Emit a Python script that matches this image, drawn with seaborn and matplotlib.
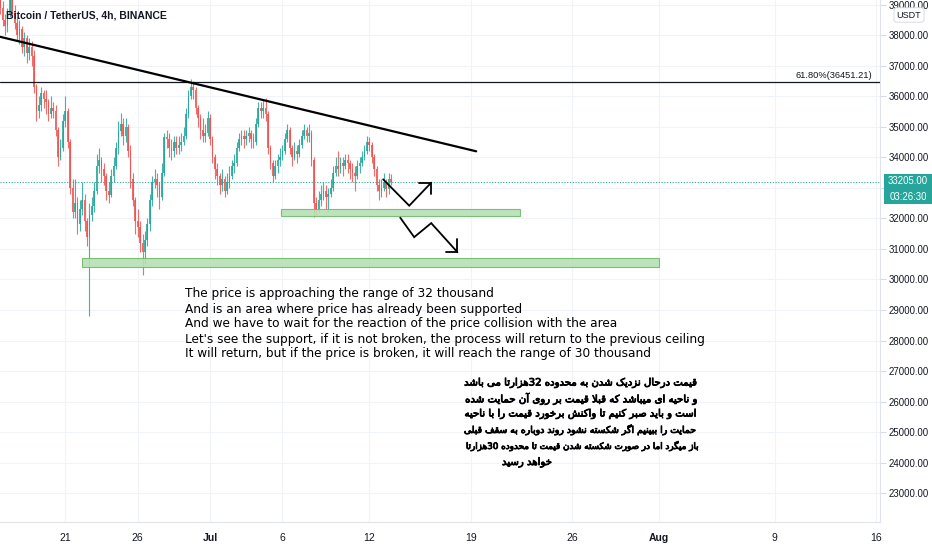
import re
import numpy as np
import pandas as pd
import matplotlib
matplotlib.use('Agg')
import matplotlib.pyplot as plt
import matplotlib.dates as mdates
import matplotlib.patheffects as pe
from matplotlib.patches import Rectangle
import seaborn as sns

# BTCUSDT 4h candles from 16 Jun 2021 12:00
start_time = '2021-06-16 12:00'
first_open = 39300
closes = [38900, 38500, 38300, 38700, 39200, 38800, 38400, 38000, 38200, 37600,
          37900, 37400, 37600, 37300, 36300, 35500, 35700, 36100, 35900, 35800,
          35400, 35600, 35500, 34900, 34000, 34300, 35200, 35500, 34500, 33000,
          32200, 32500, 31800, 32300, 32600, 31900, 31400, 32100, 32400, 32900,
          33700, 33900, 33600, 33400, 32900, 32750, 33400, 33700, 34300, 34850,
          35100, 34700, 35000, 34200, 33300, 32600, 31900, 31700, 31200, 30900,
          31300, 31800, 32600, 33200, 33300, 33100, 32700, 33500, 34650, 34600,
          34300, 34200, 34500, 34300, 34400, 34500, 34700, 35400, 36000, 36300,
          36200, 35600, 35300, 34900, 34700, 34800, 35300, 34600, 34000, 33600,
          33400, 33100, 33300, 32900, 33200, 33400, 33700, 33800, 34300, 34600,
          34700, 34600, 34700, 34800, 34600, 34500, 35100, 35600, 35500, 35600,
          35400, 34300, 33800, 33400, 33700, 33900, 34000, 34200, 34600, 34900,
          34300, 34000, 34200, 34100, 34400, 34700, 34900, 34700, 34800, 33900,
          32500, 32300, 32600, 32800, 32900, 32700, 32800, 33000, 33500, 33700,
          33600, 33800, 33700, 33900, 33800, 33600, 33500, 33400, 33700, 33800,
          34000, 34200, 34500, 34400, 34000, 33600, 33100, 32900, 33000, 33200,
          32950, 33300, 33205]
highs = [39500, 39100, 38700, 38900, 39500, 39400, 39000, 38600, 38500, 38300,
         38100, 38000, 37900, 37800, 37500, 36400, 36000, 36300, 36200, 36200,
         35900, 36000, 35800, 35700, 35000, 34600, 35400, 36000, 35600, 34600,
         33300, 33300, 32700, 32600, 33200, 32800, 32000, 32500, 32700, 33200,
         34100, 34300, 34000, 33800, 33500, 33200, 33600, 34000, 34500, 35200,
         35450, 35300, 35300, 35100, 34400, 33500, 32700, 32300, 31900, 31500,
         31600, 32000, 32800, 33400, 33600, 33500, 33200, 33800, 34800, 34900,
         34800, 34600, 34700, 34700, 34700, 34800, 35000, 35600, 36200, 36550,
         36500, 36300, 35700, 35400, 35300, 35100, 35500, 35400, 34700, 34100,
         33800, 33500, 33600, 33400, 33500, 33700, 33900, 34100, 34500, 34800,
         34900, 34900, 34900, 35000, 34900, 34800, 35300, 35800, 35800, 35900,
         35950, 35500, 34400, 33900, 33900, 34100, 34300, 34400, 34800, 35100,
         35000, 34400, 34500, 34400, 34600, 34900, 35100, 35000, 35100, 34900,
         34000, 32700, 32900, 33100, 33200, 33100, 33000, 33300, 33700, 34000,
         34200, 34000, 34000, 34100, 34100, 33900, 33800, 33700, 33900, 34000,
         34200, 34400, 34700, 34650, 34500, 34100, 33700, 33300, 33300, 33500,
         33300, 33500, 33450]
lows = [38700, 38300, 38000, 38100, 38600, 38600, 38200, 37800, 37700, 37400,
        37300, 37100, 37200, 37000, 36100, 35200, 35300, 35500, 35600, 35400,
        35200, 35300, 35300, 34700, 33700, 33900, 34200, 35000, 34300, 32800,
        32000, 32000, 31500, 31600, 32100, 31600, 31100, 28800, 31900, 32200,
        32800, 33500, 33200, 33100, 32600, 32500, 32700, 33200, 33600, 34100,
        34700, 34400, 34500, 34000, 33000, 32400, 31500, 31400, 30900, 30150,
        30500, 31100, 31600, 32400, 33000, 32700, 32300, 32600, 33400, 34300,
        34000, 33900, 34000, 34100, 34100, 34200, 34400, 34600, 35300, 35900,
        35900, 35400, 35000, 34600, 34500, 34500, 34700, 34400, 33800, 33300,
        33100, 32800, 32900, 32700, 32800, 33000, 33300, 33500, 33700, 34200,
        34400, 34300, 34400, 34500, 34300, 34300, 34400, 35000, 35300, 35300,
        35200, 34100, 33600, 33200, 33300, 33500, 33700, 33900, 34100, 34500,
        34100, 33700, 33900, 33800, 34000, 34300, 34600, 34500, 34500, 33700,
        32050, 32100, 32200, 32400, 32600, 32300, 32200, 32700, 32900, 33400,
        33400, 33500, 33400, 33600, 33500, 33300, 33200, 32900, 33300, 33500,
        33700, 33900, 34100, 34200, 33800, 33400, 32900, 32600, 32700, 32900,
        32700, 32800, 33100]

fib_price = 36451.21
last_price = 33205.00
countdown = '03:26:30'
price_ticks = list(range(23000, 40000, 1000))
date_ticks = ['2021-06-21', '2021-06-26', '2021-07-01', '2021-07-06', '2021-07-12',
              '2021-07-19', '2021-07-26', '2021-08-01', '2021-08-09', '2021-08-16']
date_labels = ['21', '26', 'Jul', '6', '12', '19', '26', 'Aug', '9', '16']

# drawings on the chart
trend_t = ['2021-06-16 11:44', '2021-07-19 09:10']
trend_p = [37944, 34195]
zones = [  # (start, end, low, high)
    ('2021-07-05 22:00', '2021-07-22 10:00', 32086, 32316),
    ('2021-06-22 04:00', '2021-08-01 00:30', 30400, 30709),
]
arrow_up_t = ['2021-07-12 23:00', '2021-07-14 18:15', '2021-07-16 06:40']
arrow_up_p = [33277, 32414, 33168]
head_up_t = ['2021-07-15 10:50', '2021-07-16 06:40', '2021-07-16 06:40']
head_up_p = [33168, 33168, 32785]
arrow_dn_t = ['2021-07-14 03:20', '2021-07-15 02:25', '2021-07-16 06:40', '2021-07-18 02:10']
arrow_dn_p = [32021, 31384, 31843, 30892]
head_dn_t = ['2021-07-17 07:30', '2021-07-18 02:10', '2021-07-18 02:10']
head_dn_p = [30892, 30892, 31309]

title = 'Bitcoin / TetherUS, 4h, BINANCE'
note_en = [
    'The price is approaching the range of 32 thousand',
    'And is an area where price has already been supported',
    'And we have to wait for the reaction of the price collision with the area',
    "Let's see the support, if it is not broken, the process will return to the previous ceiling",
    'It will return, but if the price is broken, it will reach the range of 30 thousand',
]
note_fa = [
    'قیمت درحال نزدیک شدن به محدوده 32هزارتا می باشد',
    'و ناحیه ای میباشد که قبلا قیمت بر روی آن حمایت شده',
    'است و باید صبر کنیم تا واکنش برخورد قیمت را با ناحیه',
    'حمایت را ببینیم اگر شکسته نشود روند دوباره به سقف قبلی',
    'باز میگرد اما در صورت شکسته شدن قیمت تا محدوده 30هزارتا',
    'خواهد رسید',
]

UP = '#26a69a'
DOWN = '#ef5350'

# persian letter shaping (isolated, final, initial, medial)
FORMS = {
    'ا': ('\uFE8D', '\uFE8E', None, None),
    'آ': ('\uFE81', '\uFE82', None, None),
    'د': ('\uFEA9', '\uFEAA', None, None),
    'ر': ('\uFEAD', '\uFEAE', None, None),
    'ز': ('\uFEAF', '\uFEB0', None, None),
    'و': ('\uFEED', '\uFEEE', None, None),
    'ب': ('\uFE8F', '\uFE90', '\uFE91', '\uFE92'),
    'ت': ('\uFE95', '\uFE96', '\uFE97', '\uFE98'),
    'ح': ('\uFEA1', '\uFEA2', '\uFEA3', '\uFEA4'),
    'خ': ('\uFEA5', '\uFEA6', '\uFEA7', '\uFEA8'),
    'س': ('\uFEB1', '\uFEB2', '\uFEB3', '\uFEB4'),
    'ش': ('\uFEB5', '\uFEB6', '\uFEB7', '\uFEB8'),
    'ص': ('\uFEB9', '\uFEBA', '\uFEBB', '\uFEBC'),
    'ف': ('\uFED1', '\uFED2', '\uFED3', '\uFED4'),
    'ق': ('\uFED5', '\uFED6', '\uFED7', '\uFED8'),
    'ک': ('\uFB8E', '\uFB8F', '\uFB90', '\uFB91'),
    'گ': ('\uFB92', '\uFB93', '\uFB94', '\uFB95'),
    'ل': ('\uFEDD', '\uFEDE', '\uFEDF', '\uFEE0'),
    'م': ('\uFEE1', '\uFEE2', '\uFEE3', '\uFEE4'),
    'ن': ('\uFEE5', '\uFEE6', '\uFEE7', '\uFEE8'),
    'ه': ('\uFEE9', '\uFEEA', '\uFEEB', '\uFEEC'),
    'ی': ('\uFBFC', '\uFBFD', '\uFBFE', '\uFBFF'),
}


def links_forward(c):
    return c in FORMS and FORMS[c][2] is not None


def shape_line(s):
    # contextual forms in logical order, then right-to-left visual order
    out = []
    k = 0
    while k < len(s):
        c = s[k]
        prev = s[k - 1] if k > 0 else ''
        link_prev = links_forward(prev) and c in FORMS
        if c == 'ل' and k + 1 < len(s) and s[k + 1] == 'ا':
            out.append('\uFEFC' if link_prev else '\uFEFB')
            k += 2
            continue
        nxt = s[k + 1] if k + 1 < len(s) else ''
        link_next = links_forward(c) and nxt in FORMS
        if c not in FORMS:
            out.append(c)
        else:
            iso, fin, ini, med = FORMS[c]
            if link_prev and link_next:
                out.append(med)
            elif link_prev:
                out.append(fin)
            elif link_next:
                out.append(ini)
            else:
                out.append(iso)
        k += 1
    visual = ''.join(reversed(out))
    # numbers keep their left-to-right order
    return re.sub(r'\d+', lambda m: m.group(0)[::-1], visual)


sns.set_style('white')
plt.rcParams['font.family'] = ['Liberation Sans', 'DejaVu Sans']

W, H = 932, 550
fig = plt.figure(figsize=(W / 100, H / 100), dpi=100)
ax = fig.add_axes([0, 28 / H, 880 / W, 522 / H])


def fx(px):
    return px / W


def fy(py):
    return 1 - py / H


def tnum(ts):
    return mdates.date2num(pd.to_datetime(ts))


# candles
times = pd.date_range(start_time, periods=len(closes), freq='4h')
opens = [first_open] + closes[:-1]
df = pd.DataFrame({'t': times, 'open': opens, 'high': highs, 'low': lows, 'close': closes})
df['x'] = mdates.date2num(df['t'])
colors = np.where(df['close'] >= df['open'], UP, DOWN)
ax.vlines(df['x'], df['low'], df['high'], colors=colors, lw=0.8, alpha=0.85, zorder=3)
body = (df['close'] - df['open']).abs().clip(lower=25)
ax.bar(df['x'], body, bottom=df[['open', 'close']].min(axis=1), width=0.115,
       color=colors, linewidth=0, alpha=0.85, zorder=3)

# grid
for p in price_ticks:
    ax.axhline(p, color='#f0f3fa', lw=0.8, zorder=0)
for d in date_ticks:
    ax.axvline(tnum(d), color='#f0f3fa', lw=0.8, zorder=0)

# fib level and last price
ax.axhline(fib_price, color='#131722', lw=0.9, zorder=4)
ax.axhline(last_price, color=UP, lw=0.8, ls=(0, (1, 1.5)), zorder=2)
fig.text(fx(872), fy(75), '61.80%(36451.21)', ha='right', va='center',
         fontsize=6.7, color='#131722')

# support zones
for t0, t1, lo, hi in zones:
    x0, x1 = tnum(t0), tnum(t1)
    ax.add_patch(Rectangle((x0, lo), x1 - x0, hi - lo, facecolor='#b7dfb4',
                           edgecolor='#6dbb6a', lw=0.8, alpha=0.9, zorder=4))

# trend line and path arrows
sns.lineplot(x=tnum(trend_t), y=trend_p, ax=ax, color='black', lw=1.6, zorder=5)
for tt, pp in [(arrow_up_t, arrow_up_p), (head_up_t, head_up_p),
               (arrow_dn_t, arrow_dn_p), (head_dn_t, head_dn_p)]:
    ax.plot(tnum(tt), pp, color='black', lw=1.3, zorder=5, solid_joinstyle='miter')

ax.set_xlim(tnum('2021-06-16 11:44'), tnum('2021-08-16 06:45'))
ax.set_ylim(22058, 39148)

ax.yaxis.tick_right()
ax.set_yticks(price_ticks)
# the 33000 label sits under the last-price tag
ax.set_yticklabels(['' if p == 33000 else f'{p:.2f}' for p in price_ticks])
ax.tick_params(axis='y', length=4, width=0.6, color='#d1d4dc', pad=2,
               labelsize=6.9, labelcolor='#131722')
ax.set_xticks(tnum(date_ticks))
ax.set_xticklabels(date_labels)
ax.tick_params(axis='x', length=0, pad=8, labelsize=7.5, labelcolor='#131722')
for lab in ax.get_xticklabels():
    if lab.get_text() in ('Jul', 'Aug'):
        lab.set_fontweight('bold')
for side in ['top', 'left']:
    ax.spines[side].set_visible(False)
for side in ['right', 'bottom']:
    ax.spines[side].set_color('#e0e3eb')
    ax.spines[side].set_linewidth(0.8)

# header and price-scale labels
fig.text(fx(6), fy(15), title, ha='left', va='center', fontsize=7.5,
         fontweight='bold', color='#131722')
fig.text(fx(909), fy(15), 'USDT', ha='center', va='center', fontsize=6.5,
         color='#131722', zorder=10,
         bbox=dict(boxstyle='round,pad=0.3', fc='white', ec='#d1d4dc', lw=0.6))
fig.add_artist(Rectangle((fx(884), fy(204)), 48 / W, 30 / H, transform=fig.transFigure,
                         facecolor=UP, edgecolor='none', zorder=10))
fig.text(fx(908), fy(181), f'{last_price:.2f}', ha='center', va='center',
         fontsize=6.9, color='white', zorder=11)
fig.text(fx(908), fy(197), countdown, ha='center', va='center',
         fontsize=6.9, color='white', zorder=11)

# notes
for i, line in enumerate(note_en):
    fig.text(fx(185), fy(294 + 15 * i), line, ha='left', va='center',
             fontsize=8.7, color='black', family=['DejaVu Sans'])

# persian lines, right edge of each line on the chart
fa_pos = [(697, 383), (697, 399), (697, 414), (697, 430), (697, 446), (552, 462)]
fa_texts = []
for (px, py), line in zip(fa_pos, note_fa):
    fa_texts.append(fig.text(fx(px), fy(py), shape_line(line), ha='right', va='center',
                             fontsize=8, color='black', family=['DejaVu Sans'],
                             path_effects=[pe.withStroke(linewidth=0.6, foreground='black')]))
# full lines span 465 -> 697 px on the chart; the last short line uses the first line's size
fig.canvas.draw()
widths = [t.get_window_extent().width for t in fa_texts]
for i, t in enumerate(fa_texts):
    ref_w = widths[i] if i < 5 else widths[0]
    t.set_fontsize(min(8 * 232 / ref_w, 8 * 236 / widths[0]))

fig.savefig('out.png', dpi=100)
